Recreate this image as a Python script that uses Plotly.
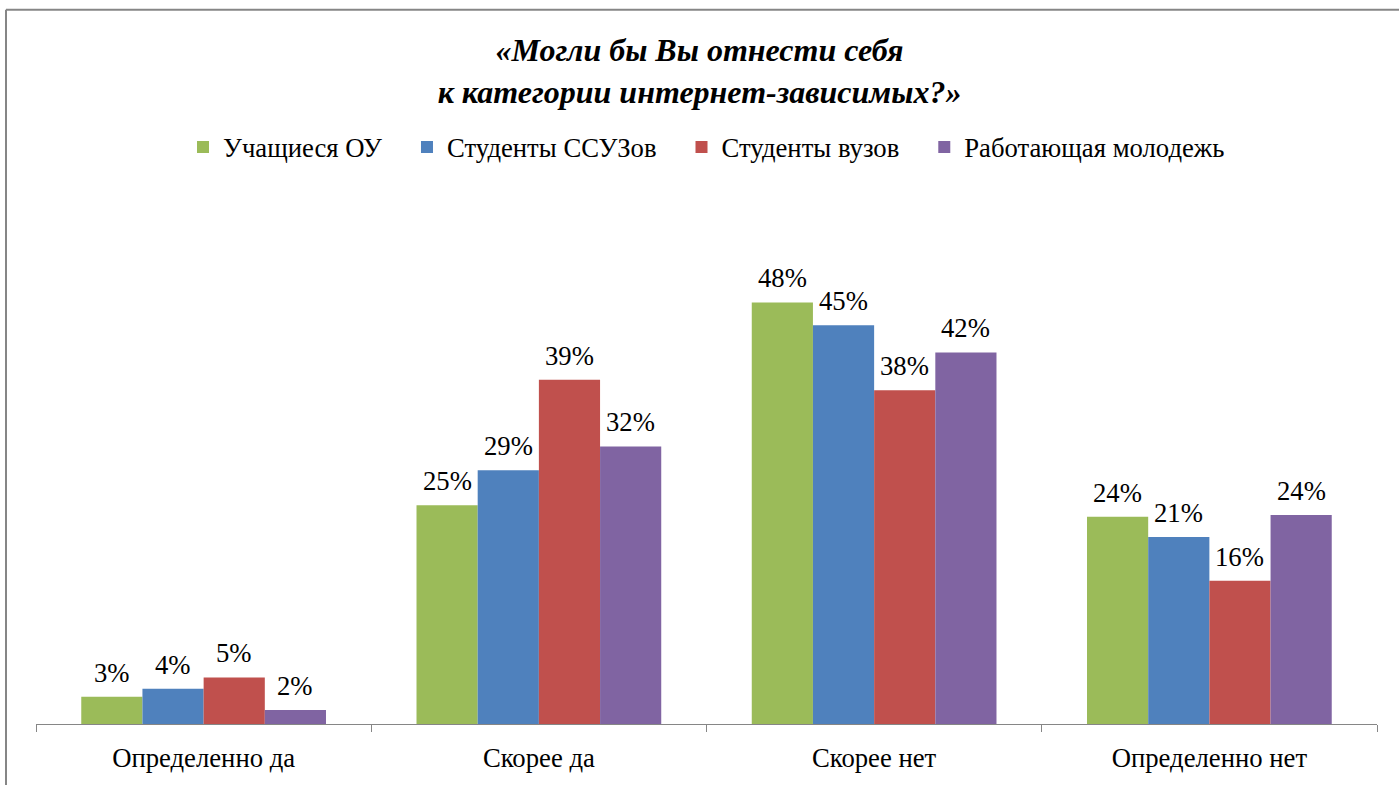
import plotly.graph_objects as go

categories = ["Определенно да", "Скорее да", "Скорее нет", "Определенно нет"]
series_names = ["Учащиеся ОУ", "Студенты ССУЗов", "Студенты вузов", "Работающая молодежь"]
uchaschiesya = [3.1, 24.9, 48.0, 23.6]
ssuz = [4.0, 28.9, 45.4, 21.3]
vuz = [5.3, 39.2, 38.0, 16.3]
rabot = [1.6, 31.6, 42.3, 23.8]
colors = ["#9BBB59", "#4F81BD", "#C0504D", "#8064A2"]

W, H = 1399, 785
L, R, T, B = 36, 22, 197, 59
pw = W - L - R
ph = H - T - B
BARGAP = 0.27

font_family = "Liberation Serif"
FS = 26.7

all_series = [uchaschiesya, ssuz, vuz, rabot]

fig = go.Figure()
for k, (name, vals, col) in enumerate(zip(series_names, all_series, colors)):
    pad = "\u00a0" * 3 if k < len(series_names) - 1 else ""
    fig.add_trace(go.Bar(
        x=categories, y=vals, name=name + pad,
        marker=dict(color=col, line=dict(width=0)),
        cliponaxis=False,
    ))

# value labels placed over each bar (grouped offsets derived from bar geometry)
cat_px = pw / len(categories)
bar_px = cat_px * (1 - BARGAP) / len(all_series)
annotations = []
for i, vals in enumerate(all_series):
    for cat, v in zip(categories, vals):
        annotations.append(dict(
            x=cat, y=v, xref="x", yref="y",
            text=f"{v:.0f}%", showarrow=False,
            xshift=(i - (len(all_series) - 1) / 2) * bar_px,
            yshift=7, yanchor="bottom", xanchor="center",
            font=dict(size=FS, family=font_family, color="black"),
        ))

def px_x(p):
    return (p - L) / pw

def px_y(p):
    return (H - B - p) / ph

fig.update_layout(
    width=W, height=H,
    margin=dict(l=L, r=R, t=T, b=B),
    paper_bgcolor="white", plot_bgcolor="white",
    barmode="group", bargap=BARGAP, bargroupgap=0,
    font=dict(family=font_family, color="black"),
    title=dict(
        text="<b><i>«Могли бы Вы отнести себя<br>к категории интернет-зависимых?»</i></b>",
        x=0.5, xanchor="center", y=1 - 61 / H, yanchor="middle",
        font=dict(size=32, family=font_family, color="black"),
    ),
    legend=dict(
        orientation="h", x=0.5, xanchor="center",
        y=px_y(147), yanchor="middle",
        font=dict(size=FS, family=font_family, color="black"),
        itemwidth=30, traceorder="normal",
    ),
    showlegend=True,
    annotations=annotations,
    xaxis=dict(
        showline=True, linecolor="#868686", linewidth=1,
        ticks="outside", tickson="boundaries", ticklen=7, tickcolor="#868686",
        tickfont=dict(size=FS, family=font_family, color="black"),
        ticklabelstandoff=10,
        showgrid=False,
    ),
    yaxis=dict(range=[0, 60], visible=False, showgrid=False),
    shapes=[
        dict(type="line", xref="paper", yref="paper",
             x0=px_x(6), x1=px_x(W + 20), y0=px_y(9), y1=px_y(9),
             line=dict(color="#868686", width=2)),
        dict(type="line", xref="paper", yref="paper",
             x0=px_x(6), x1=px_x(6), y0=px_y(9), y1=px_y(H + 20),
             line=dict(color="#868686", width=2)),
    ],
)

fig.write_html(
    "out.html",
    config={"displayModeBar": False},
    post_script="document.body.style.margin='0';document.body.style.overflow='hidden';",
)
